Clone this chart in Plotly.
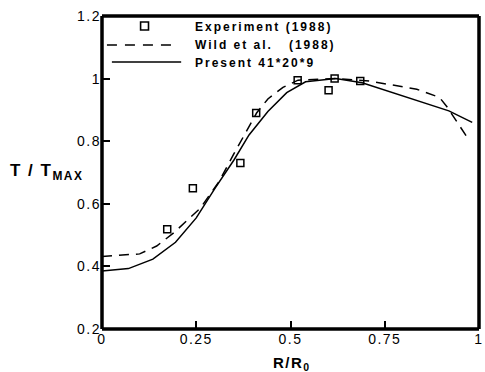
import plotly.graph_objects as go

# ---------------- data ----------------
exp_x = [0.173, 0.241, 0.367, 0.409, 0.519, 0.601, 0.617, 0.685]
exp_y = [0.519, 0.650, 0.730, 0.890, 0.995, 0.963, 1.000, 0.992]

wild_x = [0.0, 0.10, 0.145, 0.19, 0.26, 0.31, 0.35, 0.39, 0.41, 0.44, 0.48, 0.52,
          0.62, 0.71, 0.835, 0.895, 0.915, 0.97]
wild_y = [0.432, 0.440, 0.465, 0.507, 0.585, 0.670, 0.760, 0.848, 0.890, 0.935, 0.972, 0.995,
          1.000, 0.992, 0.966, 0.940, 0.910, 0.810]

pres_x = [0.0, 0.07, 0.135, 0.195, 0.25, 0.30, 0.35, 0.39, 0.44, 0.49, 0.54,
          0.62, 0.69, 0.80, 0.92, 0.982]
pres_y = [0.385, 0.393, 0.423, 0.477, 0.555, 0.650, 0.740, 0.820, 0.895, 0.955, 0.990,
          1.000, 0.987, 0.945, 0.897, 0.860]

x_ticks = [0, 0.25, 0.5, 0.75, 1]
x_tick_text = ["0", "0.25", "0.5", "0.75", "1"]
y_ticks = [0.2, 0.4, 0.6, 0.8, 1.0, 1.2]
y_tick_text = ["0.2", "0.4", "0.6", "0.8", "1", "1.2"]

legend_names = ["Experiment (1988)", "Wild et al.&nbsp;&nbsp; (1988)", "Present 41*20*9"]

# ---------------- layout constants ----------------
W, H = 485, 372
ML, MR, MT, MB = 102, 2, 16, 43
PW = W - ML - MR
PH = H - MT - MB


def px(xp):
    return (xp - ML) / PW


def py(yp):
    return (H - MB - yp) / PH


FONT = "Arial, 'Liberation Sans', sans-serif"

fig = go.Figure()
fig.add_trace(go.Scatter(x=wild_x, y=wild_y, mode="lines",
                         line=dict(color="black", width=1.5, dash="10px,7px"),
                         name="Wild et al. (1988)", showlegend=False))
fig.add_trace(go.Scatter(x=pres_x, y=pres_y, mode="lines",
                         line=dict(color="black", width=1.5),
                         name="Present 41*20*9", showlegend=False))
fig.add_trace(go.Scatter(x=exp_x, y=exp_y, mode="markers",
                         marker=dict(symbol="square-open", size=7, color="black",
                                     line=dict(width=1.5, color="black")),
                         name="Experiment (1988)", showlegend=False))

axis_common = dict(showgrid=False, zeroline=False, showline=False,
                   ticks="inside", ticklen=8,
                   tickwidth=1.5, tickcolor="black", ticklabeloverflow="allow",
                   tickfont=dict(family=FONT, size=14, color="black"))

fig.update_xaxes(range=[0, 1], tickvals=x_ticks, ticktext=x_tick_text, **axis_common)
fig.update_yaxes(range=[0.2, 1.2], tickvals=y_ticks, ticktext=y_tick_text, **axis_common)

shapes = []
# plot frame, centred on the plot-area edges
frame = [(0, 0, 0, 1), (1, 0, 1, 1), (0, 0, 1, 0), (0, 1, 1, 1)]
for x0, y0, x1, y1 in frame:
    shapes.append(dict(type="line", xref="paper", yref="paper",
                       x0=x0, y0=y0, x1=x1, y1=y1, layer="above",
                       line=dict(color="black", width=3.5)))
# ---- manual legend ----
shapes.append(dict(type="rect", xref="paper", yref="paper",
                   x0=px(141), x1=px(149), y0=py(30), y1=py(22),
                   line=dict(color="black", width=1.6)))
shapes.append(dict(type="line", xref="paper", yref="paper",
                   x0=px(107), x1=px(172), y0=py(45), y1=py(45),
                   line=dict(color="black", width=1.5, dash="10px,8px")))
shapes.append(dict(type="line", xref="paper", yref="paper",
                   x0=px(112), x1=px(182), y0=py(62), y1=py(62),
                   line=dict(color="black", width=1.5)))

annotations = []
for name, yp in zip(legend_names, [27, 45, 63]):
    annotations.append(dict(text="<b>" + name + "</b>", xref="paper", yref="paper",
                            x=px(194), y=py(yp), xanchor="left", yanchor="middle",
                            showarrow=False,
                            font=dict(family=FONT, size=12, color="black")))

annotations.append(dict(text="<b>T / T<sub>MAX</sub></b>", xref="paper", yref="paper",
                        x=px(7), y=py(172), xanchor="left", yanchor="middle",
                        showarrow=False, font=dict(family=FONT, size=17, color="black")))
annotations.append(dict(text="<b>R/R<sub>0</sub></b>", xref="paper", yref="paper",
                        x=px(294), y=py(363), xanchor="center", yanchor="middle",
                        showarrow=False, font=dict(family=FONT, size=15, color="black")))

fig.update_layout(width=W, height=H, autosize=False,
                  margin=dict(l=ML, r=MR, t=MT, b=MB, pad=0),
                  paper_bgcolor="white", plot_bgcolor="white",
                  showlegend=False, shapes=shapes, annotations=annotations,
                  font=dict(family=FONT, color="black"))

# widen glyph spacing like the original rendering; keep left-anchored texts left-anchored
post = """
document.querySelectorAll('.main-svg .xtick text, .main-svg .ytick text').forEach(function(t){
  t.style.letterSpacing = '1.5px';
});
document.querySelectorAll('.main-svg g.annotation').forEach(function(g){
  var idx = g.getAttribute('data-index');
  var t = g.querySelector('text.annotation-text');
  if (!t) return;
  var sp = (idx === '0' || idx === '1' || idx === '2') ? '2px' : '1.5px';
  if (idx === '4') { t.style.letterSpacing = sp; return; }
  var b = t.getBBox();
  t.setAttribute('text-anchor', 'start');
  t.setAttribute('x', b.x);
  t.style.letterSpacing = sp;
});
"""
fig.write_html("out.html", post_script=post)
